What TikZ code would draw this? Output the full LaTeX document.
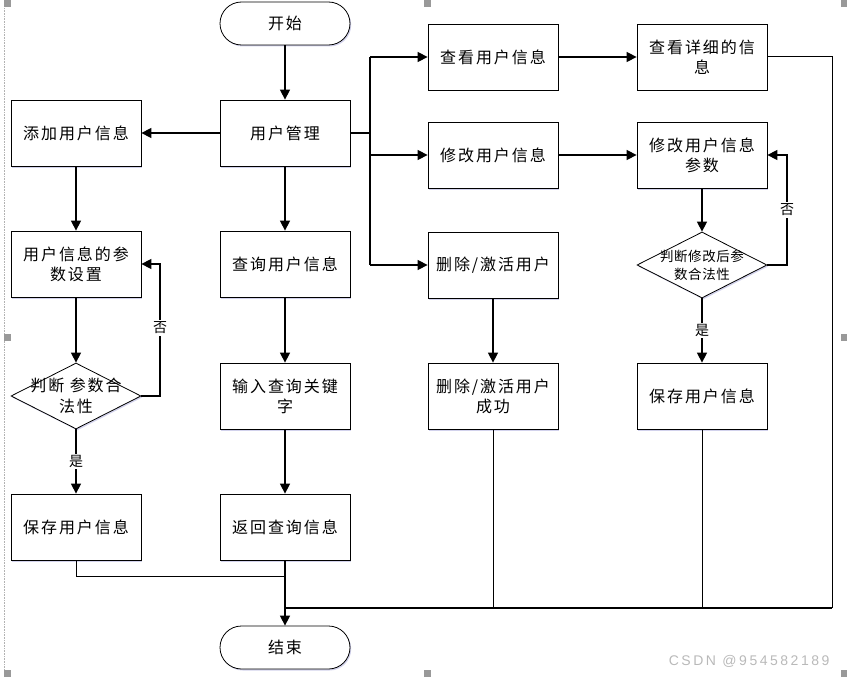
\documentclass[tikz,border=0pt]{standalone}
\usepackage{fontspec}
\newfontfamily\cjk[LetterSpace=12]{Noto Sans CJK SC}
\newfontfamily\cjkd[LetterSpace=4]{Noto Sans CJK SC}
\newfontfamily\wmfont[LetterSpace=18]{Liberation Sans}
\usetikzlibrary{shapes.geometric,arrows.meta,shadows}
\tikzset{
  box/.style={draw, line width=0.8pt, fill=white, minimum width=130pt, minimum height=66pt,
    inner sep=0pt, align=center, font=\cjk\fontsize{16}{20}\selectfont,
    drop shadow={shadow xshift=1.2pt, shadow yshift=-1.5pt, fill=blue!40!gray, opacity=0.25}},
  term/.style={box, minimum height=43pt, rounded corners=21.5pt},
  dia/.style={draw, line width=0.8pt, fill=white, diamond, minimum width=130pt, minimum height=66pt,
    inner sep=0pt, aspect=1.97,
    drop shadow={shadow xshift=1.2pt, shadow yshift=-1.5pt, fill=blue!40!gray, opacity=0.25}},
  dtext/.style={align=center, inner sep=0pt},
  arr/.style={line width=1.5pt, -{Triangle[length=10pt,width=10pt]}},
  ln/.style={line width=1.5pt},
  thinln/.style={line width=1pt},
  lbl/.style={fill=white, inner sep=1.5pt, font=\cjk\fontsize{14}{16}\selectfont},
  handle/.style={fill=gray!80, draw=none},
}
\begin{document}
\begin{tikzpicture}[x=1pt,y=-1pt]
\useasboundingbox (0,0) rectangle (847,677);
% selection artifacts
\draw[gray!60, densely dotted, line width=0.6pt] (4,0) -- (4,677);
\foreach \hx/\hy in {4/0, 424/0, 841/0, 4/334, 841/334, 4/670, 424/670, 841/670}
  \fill[handle] (\hx,\hy) rectangle ++(7,7);

% column 2
\node[term] (start) at (285,23.5) {开始};
\node[box] (um) at (285,133) {用户管理};
\node[box] (query) at (285,264) {查询用户信息};
\node[box] (input) at (285,396) {输入查询关键\\字};
\node[box] (ret) at (285,527) {返回查询信息};
\node[term] (end) at (285,647.5) {结束};

% column 1
\node[box] (add) at (76,133) {添加用户信息};
\node[box] (set) at (76,264) {用户信息的参\\数设置};
\node[dia] (d1) at (76,396) {};
\node[dtext, font=\cjk\fontsize{16}{21}\selectfont] at (d1) {判断 参数合\\法性};
\node[box] (save1) at (76,527) {保存用户信息};

% column 3
\node[box] (view) at (493,57) {查看用户信息};
\node[box] (mod) at (493,155) {修改用户信息};
\node[box] (del) at (493,265) {删除/激活用户};
\node[box] (delok) at (493,396) {删除/激活用户\\成功};

% column 4
\node[box] (detail) at (702,57) {查看详细的信\\息};
\node[box] (modp) at (702,155) {修改用户信息\\参数};
\node[dia] (d2) at (702,265) {};
\node[dtext, font=\cjkd\fontsize{13.5}{18}\selectfont] at (d2) {判断修改后参\\数合法性};
\node[box] (save2) at (702,396) {保存用户信息};

% connectors
\draw[arr] (start) -- (um);
\draw[arr] (um) -- (add);
\draw[arr] (um) -- (query);
\draw[arr] (query) -- (input);
\draw[arr] (input) -- (ret);

\coordinate (jt) at (370,57);
\coordinate (jb) at (370,265);
\draw[ln] (um.east) -- (um.east -| jt);
\draw[ln] (jt) -- (jb);
\draw[arr] (jt) -- (view.west);
\draw[arr] (jt |- mod.west) -- (mod.west);
\draw[arr] (jb) -- (del.west);

\draw[arr] (add) -- (set);
\draw[arr] (set) -- (d1);
\draw[arr] (d1) -- node[lbl] {是} (save1);
\coordinate (l1) at (160,396);
\draw[arr] (d1.east) -- (l1) |- (set.east);
\node[lbl] at (160,328) {否};

\draw[arr] (view) -- (detail);
\draw[arr] (mod) -- (modp);
\draw[arr] (modp) -- (d2);
\draw[arr] (d2) -- node[lbl] {是} (save2);
\coordinate (l2) at (787,265);
\draw[arr] (d2.east) -- (l2) |- (modp.east);
\node[lbl] at (787,210) {否};

\draw[arr] (del) -- (delok);

% bottom collection
\coordinate (b1) at (285,576);
\coordinate (b2) at (285,608);
\coordinate (rc) at (832,608);
\draw[thinln] (save1.south) |- (b1);
\draw[arr] (ret) -- (end);
\draw[line width=1.3pt] (b2) -- (rc);
\draw[thinln] (delok.south) -- (delok.south |- rc);
\draw[thinln] (save2.south) -- (save2.south |- rc);
\draw[thinln] (detail.east) -| (rc);

\node[font=\wmfont\fontsize{14}{16}\selectfont, text=gray!55, anchor=east] (wm) at (833,661) {CSDN @954582189};
\end{tikzpicture}
\end{document}
